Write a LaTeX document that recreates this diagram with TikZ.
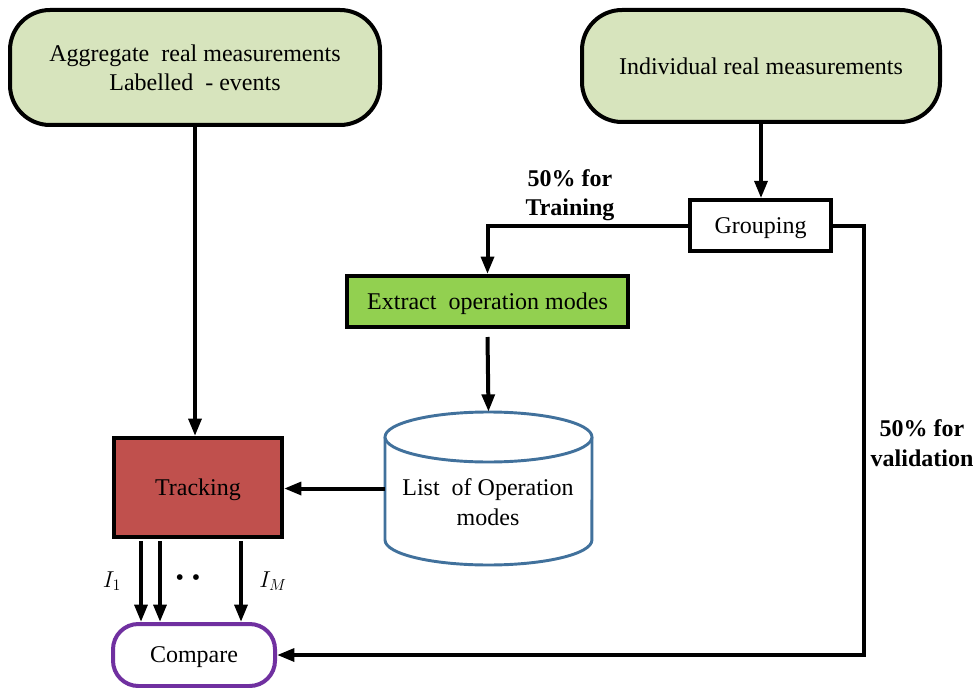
\documentclass[tikz,border=0pt]{standalone}
\usepackage{fontspec}
\setmainfont{Liberation Serif}
\usetikzlibrary{arrows.meta}
\definecolor{lgreen}{HTML}{D7E4BD}
\definecolor{mgreen}{HTML}{92D050}
\definecolor{trkred}{HTML}{C0504D}
\definecolor{cmppurple}{HTML}{7030A0}
\definecolor{cylblue}{HTML}{41719C}
\begin{document}
\begin{tikzpicture}[x=0.75pt,y=-0.75pt,
  every node/.style={font=\fontsize{18}{22}\selectfont, align=center, inner sep=0pt},
  boxtext/.style={text depth=0pt},
  roundbox/.style={boxtext, draw=black, line width=3pt, fill=lgreen, rounded corners=30pt},
  plainbox/.style={boxtext, draw=black, line width=2.6pt, fill=white},
  arr/.style={line width=3pt, -{Triangle[length=13pt,width=9.5pt]}},
  lbl/.style={font=\fontsize{18}{22}\selectfont\bfseries}]
\useasboundingbox (0,0) rectangle (978,688);

\node[roundbox, minimum width=277.5pt, minimum height=86.25pt] (agg) at (195,67.5) {Aggregate\ \ real measurements\\Labelled\ \ -\ events};
\node[roundbox, minimum width=268.5pt, minimum height=84pt] (ind) at (761,66) {Individual real measurements};
\node[plainbox, minimum width=105.75pt, minimum height=38.25pt] (grp) at (760.5,225.5) {Grouping};
\node[boxtext, draw=black, line width=3pt, fill=mgreen, minimum width=210.75pt, minimum height=38.25pt] (ext) at (487.5,301.5) {Extract\ \ operation modes};
\node[boxtext, draw=black, line width=3pt, fill=trkred, minimum width=126pt, minimum height=74.25pt] (trk) at (198,487.5) {Tracking};
\node[boxtext, draw=cmppurple, line width=3pt, fill=white, rounded corners=19pt, minimum width=121.5pt, minimum height=46.5pt] (cmp) at (194,655) {Compare};

% cylinder
\node[minimum width=155.25pt, minimum height=114.75pt] (cyl) at (488.5,488.5) {};
\draw[draw=cylblue, line width=2.2pt, fill=white]
  (385,437) -- (385,540) arc[start angle=180, end angle=360, x radius=77.6pt, y radius=18.75pt] -- (592,437);
\draw[draw=cylblue, line width=2.2pt, fill=white] (488.5,437) ellipse [x radius=77.6pt, y radius=18.75pt];
\node (cylt) at (488,502) {List\ \ of Operation\\modes};

% labels
\node[lbl] (ltrain) at (570,195) {50\% for\\Training};
\node[lbl] (lval) at (922,443) {50\% for\\validation};
\node (li1) at (112,581) {$I_1$};
\node (lim) at (273,581) {$I_M$};
\node (ldots) at (188,580) {\textbullet\,\,\textbullet};

% connectors
\draw[arr] (agg.south) -- (agg.south |- trk.north);
\draw[arr] (ind.south) -- (ind.south |- grp.north);
\draw[arr] (grp.west) -| (ext.north);
\draw[arr] (grp.east) -- ++(31,0) |- (cmp.east);
\draw[arr] ([yshift=-6pt]ext.south) -- (cyl.north);
\draw[arr] (cyl.west) -- (cyl.west -| trk.east);
\coordinate (o1) at (141,541);
\coordinate (o2) at (160,541);
\coordinate (o3) at (241,541);
\draw[arr] (o1) -- (o1 |- cmp.north);
\draw[arr] (o2) -- (o2 |- cmp.north);
\draw[arr] (o3) -- (o3 |- cmp.north);
\end{tikzpicture}
\end{document}
